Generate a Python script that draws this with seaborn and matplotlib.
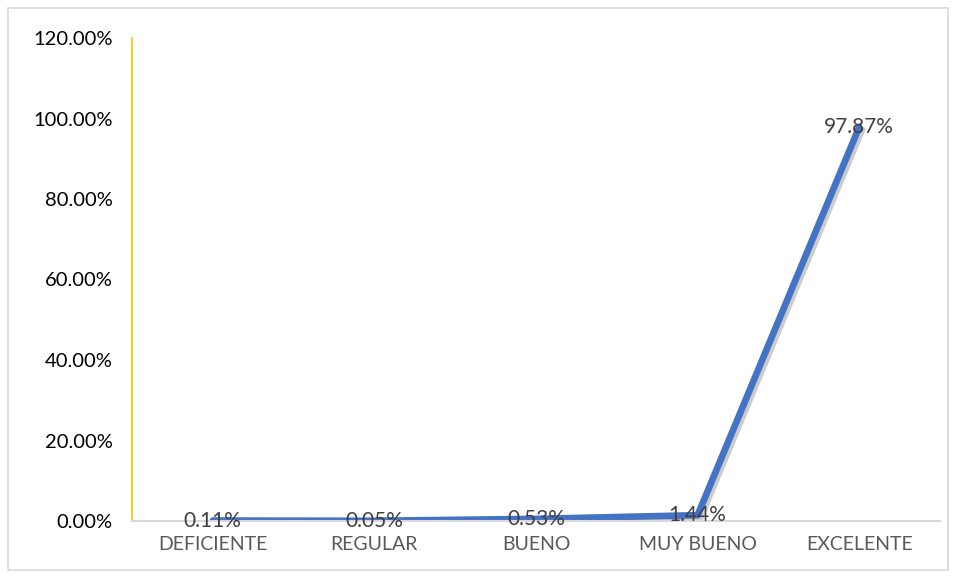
import matplotlib
matplotlib.use("Agg")
import matplotlib.pyplot as plt
import matplotlib.patheffects as pe
from matplotlib.ticker import FuncFormatter
import pandas as pd
import seaborn as sns

categorias = ["DEFICIENTE", "REGULAR", "BUENO", "MUY BUENO", "EXCELENTE"]
porcentajes = [0.11, 0.05, 0.53, 1.44, 97.87]
etiquetas = ["0.11%", "0.05%", "0.53%", "1.44%", "97.87%"]
yticks = [0, 20, 40, 60, 80, 100, 120]


def main():
  sns.set_style("white")
  plt.rcParams["font.family"] = ["Lato", "DejaVu Sans"]

  df = pd.DataFrame({"cat": categorias, "pct": porcentajes})

  fig = plt.figure(figsize=(9.56, 5.78), dpi=100)
  ax = fig.add_axes([132 / 956, 1 - 521 / 578, (940 - 132) / 956, (521 - 38) / 578])

  sns.lineplot(data=df, x="cat", y="pct", ax=ax, color="#4472C4", linewidth=4.8,
               sort=False,
               path_effects=[pe.SimpleLineShadow(offset=(2, -2), shadow_color="#000000", alpha=0.2),
                             pe.Normal()])

  # etiquetas de datos centradas en cada punto
  for i, (v, t) in enumerate(zip(porcentajes, etiquetas)):
    ax.text(i, v, t, ha="center", va="center", fontsize=15, color="#404040")

  ax.set_xlim(-0.5, len(categorias) - 0.5)
  ax.set_ylim(0, 120)
  ax.set_yticks(yticks)
  ax.yaxis.set_major_formatter(FuncFormatter(lambda v, p: "%.2f%%" % v))
  ax.set_xlabel("")
  ax.set_ylabel("")
  ax.tick_params(axis="y", labelsize=14.5, labelcolor="#000000", length=0, pad=14)
  ax.tick_params(axis="x", labelsize=14, labelcolor="#595959", length=0, pad=11)

  for s in ["top", "right"]:
    ax.spines[s].set_visible(False)
  ax.spines["left"].set_color("#FFC000")
  ax.spines["left"].set_linewidth(1.2)
  ax.spines["bottom"].set_color("#D9D9D9")
  ax.spines["bottom"].set_linewidth(1.5)

  # borde exterior del grafico
  borde = plt.Rectangle((8 / 956, 8 / 578), 940 / 956, 562 / 578, transform=fig.transFigure,
                        fill=False, edgecolor="#D9D9D9", linewidth=1.2)
  fig.patches.append(borde)

  fig.savefig("out.png", dpi=100)


if __name__ == "__main__":
  main()
